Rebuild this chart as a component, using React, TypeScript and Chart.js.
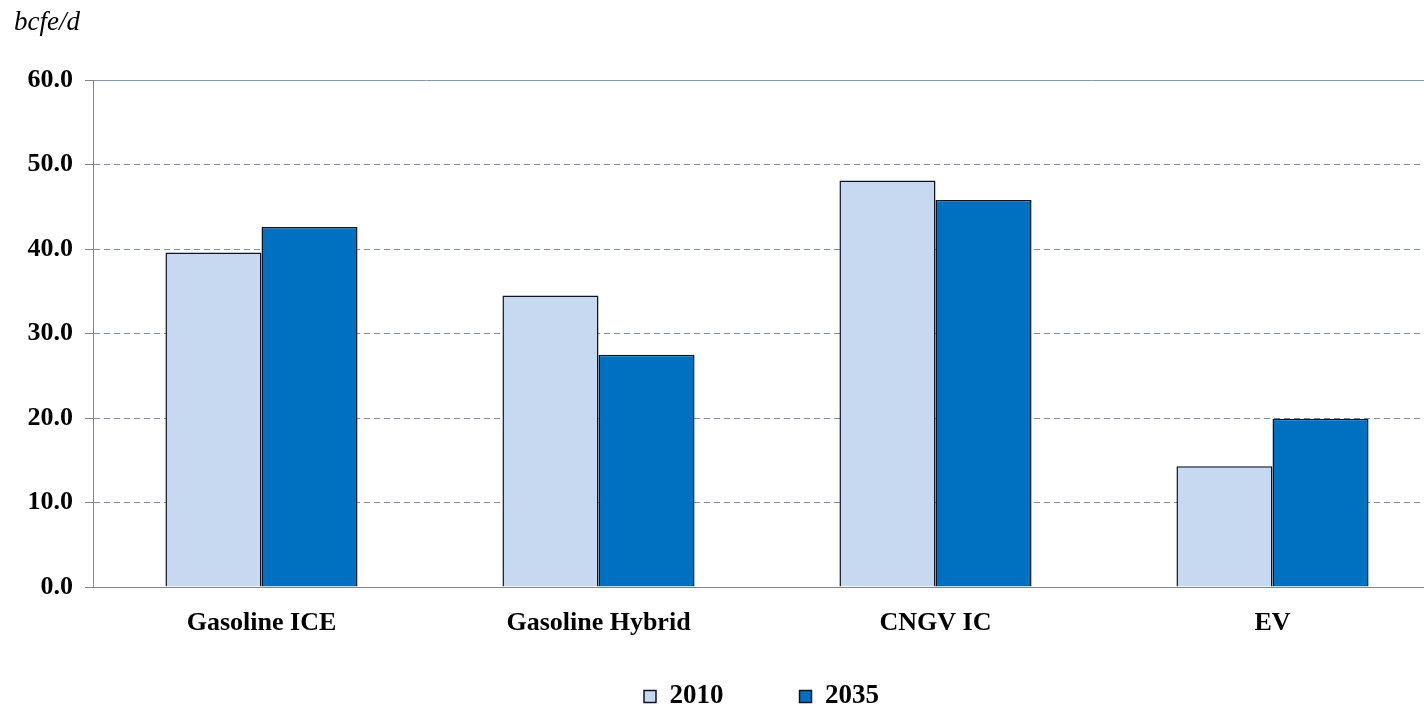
import React, { useEffect, useRef } from 'react';
import { Chart, registerables } from 'chart.js';

Chart.register(...registerables);

const categories = ['Gasoline ICE', 'Gasoline Hybrid', 'CNGV IC', 'EV'];
const seriesLabels = ['2010', '2035'];
const values2010 = [39.6, 34.5, 48.1, 14.3];
const values2035 = [42.6, 27.5, 45.8, 19.9];
const unitLabel = 'bcfe/d';
const yMin = 0;
const yMax = 60;
const yStep = 10;

const SERIF = "'Liberation Serif', 'Times New Roman', serif";

export default function App() {
  const ref = useRef<HTMLCanvasElement>(null);

  useEffect(() => {
    if (!ref.current) return;

    const layoutTweak = {
      id: 'layoutTweak',
      afterLayout(chart: any) {
        // the reference's category axis runs slightly past the right edge of the picture
        const xs = chart.scales.x;
        if (xs) {
          xs.right += 17;
          xs.width += 17;
          xs.configure();
        }
        const lg = chart.legend;
        if (!lg) return;
        const ca = chart.chartArea;
        const pad = lg.options.labels.padding;
        lg.left = ca.left + 6;
        lg.right = 1424;
        lg.top = 683 - pad;
        lg.bottom = chart.height;
      },
    };

    const chart = new Chart(ref.current, {
      type: 'bar',
      data: {
        labels: categories,
        datasets: [
          {
            label: seriesLabels[0],
            data: values2010,
            backgroundColor: '#c6d9f1',
            borderColor: '#0e1424',
            borderWidth: 1.5,
            categoryPercentage: 0.57,
            barPercentage: 1.0,
          },
          {
            label: seriesLabels[1],
            data: values2035,
            backgroundColor: '#0070c0',
            borderColor: '#0e1424',
            borderWidth: 1.5,
            categoryPercentage: 0.57,
            barPercentage: 1.0,
          },
        ],
      },
      options: {
        responsive: false,
        animation: false,
        layout: { padding: { left: 14, right: 0, top: 0, bottom: 0 } },
        plugins: {
          title: {
            display: true,
            text: unitLabel,
            align: 'start',
            color: '#000',
            font: { family: SERIF, style: 'italic', size: 27, weight: 'normal' },
            padding: { top: 7, bottom: 40.6 },
          },
          legend: {
            position: 'bottom',
            maxHeight: 40,
            labels: {
              boxWidth: 12,
              boxHeight: 12,
              padding: 76,
              color: '#000',
              font: { family: SERIF, size: 27, weight: 'bold' },
            },
          },
          tooltip: { enabled: false },
        },
        scales: {
          x: {
            grid: { display: false },
            border: { display: true, color: '#868686', width: 1 },
            ticks: {
              color: '#000',
              padding: 13,
              font: { family: SERIF, size: 26, weight: 'bold' },
            },
            afterFit: (s: any) => {
              s.height = 81;
            },
          },
          y: {
            min: yMin,
            max: yMax,
            ticks: {
              stepSize: yStep,
              padding: 12,
              color: '#000',
              font: { family: SERIF, size: 26, weight: 'bold' },
              callback: (v: any) => Number(v).toFixed(1),
            },
            grid: {
              color: (ctx: any) =>
                ctx.tick && ctx.tick.value === yMin
                  ? 'rgba(0,0,0,0)'
                  : ctx.tick && ctx.tick.value === yMax
                  ? '#8496b0'
                  : '#7f8fa9',
              lineWidth: 1,
              tickLength: 8,
              tickColor: '#868686',
            },
            border: {
              display: true,
              color: '#868686',
              width: 1,
              dash: (ctx: any) =>
                ctx.tick && (ctx.tick.value === yMax || ctx.tick.value === yMin) ? [] : [6, 4],
            },
            afterFit: (s: any) => {
              s.width = 79;
            },
          },
        },
      },
      plugins: [layoutTweak],
    } as any);

    return () => chart.destroy();
  }, []);

  return (
    <div style={{ position: 'absolute', left: 0, top: 0, width: 1424, height: 708, background: '#fff' }}>
      <canvas ref={ref} width={1424} height={708} style={{ display: 'block' }} />
    </div>
  );
}
